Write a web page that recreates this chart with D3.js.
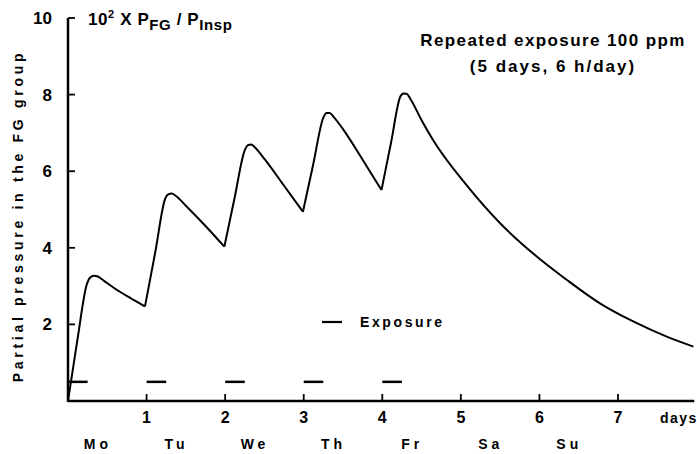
<!DOCTYPE html>
<html>
<head>
<meta charset="utf-8">
<script src="https://cdn.jsdelivr.net/npm/d3@7"></script>
<style>
  body { margin: 0; background: #fff; }
  text { font-family: "Liberation Sans", Arial, sans-serif; font-weight: bold; fill: #000; }
</style>
</head>
<body>
<svg id="chart" width="697" height="454"></svg>
<script>
// curve (days, 10^2 x P_FG/P_insp)
const times = [0, 0.12, 0.24, 0.28, 0.33, 0.38, 0.45, 0.6, 0.8, 0.98,
  1.11, 1.24, 1.28, 1.32, 1.37, 1.5, 1.75, 1.99,
  2.12, 2.25, 2.29, 2.33, 2.38, 2.5, 2.75, 2.99,
  3.12, 3.25, 3.29, 3.33, 3.38, 3.5, 3.75, 3.99,
  4.11, 4.23, 4.27, 4.31, 4.36, 4.5, 4.65, 5.07, 5.5, 5.92, 6.35, 6.77, 7.2, 7.62, 7.96];
const values = [0, 1.6, 3.05, 3.22, 3.27, 3.25, 3.15, 2.93, 2.68, 2.47,
  3.88, 5.3, 5.4, 5.42, 5.36, 5.1, 4.57, 4.03,
  5.3, 6.55, 6.68, 6.7, 6.62, 6.32, 5.62, 4.94,
  6.17, 7.4, 7.52, 7.52, 7.42, 7.1, 6.3, 5.51,
  6.73, 7.95, 8.03, 8.02, 7.88, 7.33, 6.8, 5.64, 4.64, 3.85, 3.16, 2.55, 2.07, 1.68, 1.42];

const exposureStart = [0, 1, 2, 3, 4];
const exposureLength = 0.25;
const exposureLevel = 0.5;

const xTicks = [1, 2, 3, 4, 5, 6, 7];
const yTicks = [2, 4, 6, 8, 10];
const dayNames = ["Mo", "Tu", "We", "Th", "Fr", "Sa", "Su"];

let svg = d3.select("#chart");

let x = d3.scaleLinear().domain([0, 7]).range([68, 618]);
let y = d3.scaleLinear().domain([0, 10]).range([401, 18]);

// axes lines
svg.append("line").attr("x1", x(0)).attr("x2", x(7.97)).attr("y1", y(0)).attr("y2", y(0))
  .attr("stroke", "#000").attr("stroke-width", 2.5);
svg.append("line").attr("x1", x(0)).attr("x2", x(0)).attr("y1", y(0) + 1).attr("y2", y(10))
  .attr("stroke", "#000").attr("stroke-width", 2.5);

// x ticks (pointing up) and labels
svg.selectAll(".xt").data(xTicks).join("line")
  .attr("x1", d => x(d)).attr("x2", d => x(d))
  .attr("y1", y(0)).attr("y2", y(0) - 7)
  .attr("stroke", "#000").attr("stroke-width", 1.8);
svg.selectAll(".xl").data(xTicks).join("text")
  .attr("x", d => x(d)).attr("y", 423)
  .attr("text-anchor", "middle").attr("font-size", 16)
  .text(d => d);
svg.append("text").attr("x", 660).attr("y", 423).attr("font-size", 14)
  .attr("letter-spacing", 1.5).text("days");
svg.selectAll(".dn").data(dayNames).join("text")
  .attr("x", (d, i) => x(i + 0.38)).attr("y", 449)
  .attr("text-anchor", "middle").attr("font-size", 14)
  .attr("letter-spacing", 4).text(d => d);

// y ticks (pointing right) and labels
svg.selectAll(".yt").data(yTicks).join("line")
  .attr("x1", x(0)).attr("x2", x(0) + 7)
  .attr("y1", d => y(d)).attr("y2", d => y(d))
  .attr("stroke", "#000").attr("stroke-width", 1.8);
svg.selectAll(".yl").data(yTicks).join("text")
  .attr("x", 52).attr("y", d => y(d) + 6)
  .attr("text-anchor", "end").attr("font-size", 17)
  .text(d => d);

// y axis title
svg.append("text")
  .attr("transform", "translate(23,216) rotate(-90)")
  .attr("text-anchor", "middle").attr("font-size", 14)
  .attr("letter-spacing", 3.7)
  .text("Partial pressure in the FG group");

// unit label 10^2 x P_FG / P_Insp
let unit = svg.append("text").attr("x", 88).attr("y", 25).attr("font-size", 17)
  .attr("letter-spacing", 0.6);
unit.append("tspan").text("10");
unit.append("tspan").attr("dy", -7).attr("font-size", 11).text("2");
unit.append("tspan").attr("dy", 7).text(" X P");
unit.append("tspan").attr("dy", 5).attr("font-size", 15).text("FG");
unit.append("tspan").attr("dy", -5).text(" / P");
unit.append("tspan").attr("dy", 5).attr("font-size", 15).text("Insp");

// title
svg.append("text").attr("x", 553).attr("y", 46).attr("text-anchor", "middle")
  .attr("font-size", 17).attr("letter-spacing", 1.4).text("Repeated exposure 100 ppm");
svg.append("text").attr("x", 553).attr("y", 72).attr("text-anchor", "middle")
  .attr("font-size", 17).attr("letter-spacing", 2).text("(5 days, 6 h/day)");

// legend
svg.append("line").attr("x1", 322).attr("x2", 342).attr("y1", 322).attr("y2", 322)
  .attr("stroke", "#000").attr("stroke-width", 2.2);
svg.append("text").attr("x", 360).attr("y", 327).attr("font-size", 14)
  .attr("letter-spacing", 2.6).text("Exposure");

// exposure bars
svg.selectAll(".exp").data(exposureStart).join("line")
  .attr("x1", d => x(d)).attr("x2", d => x(d + exposureLength))
  .attr("y1", y(exposureLevel)).attr("y2", y(exposureLevel))
  .attr("stroke", "#000").attr("stroke-width", 2.5);

// curve: split at the valleys so the corners stay sharp
let pts = times.map((t, i) => [t, values[i]]);
let segments = [];
let current = [pts[0]];
for (let i = 1; i < pts.length; i++) {
  current.push(pts[i]);
  if (i < pts.length - 1 && values[i + 1] > values[i] && values[i - 1] > values[i]) {
    segments.push(current);
    current = [pts[i]];
  }
}
segments.push(current);

let line = d3.line().x(d => x(d[0])).y(d => y(d[1])).curve(d3.curveMonotoneX);
svg.selectAll(".seg").data(segments).join("path")
  .attr("d", d => line(d))
  .attr("fill", "none").attr("stroke", "#000").attr("stroke-width", 2)
  .attr("stroke-linejoin", "round");
</script>
</body>
</html>
